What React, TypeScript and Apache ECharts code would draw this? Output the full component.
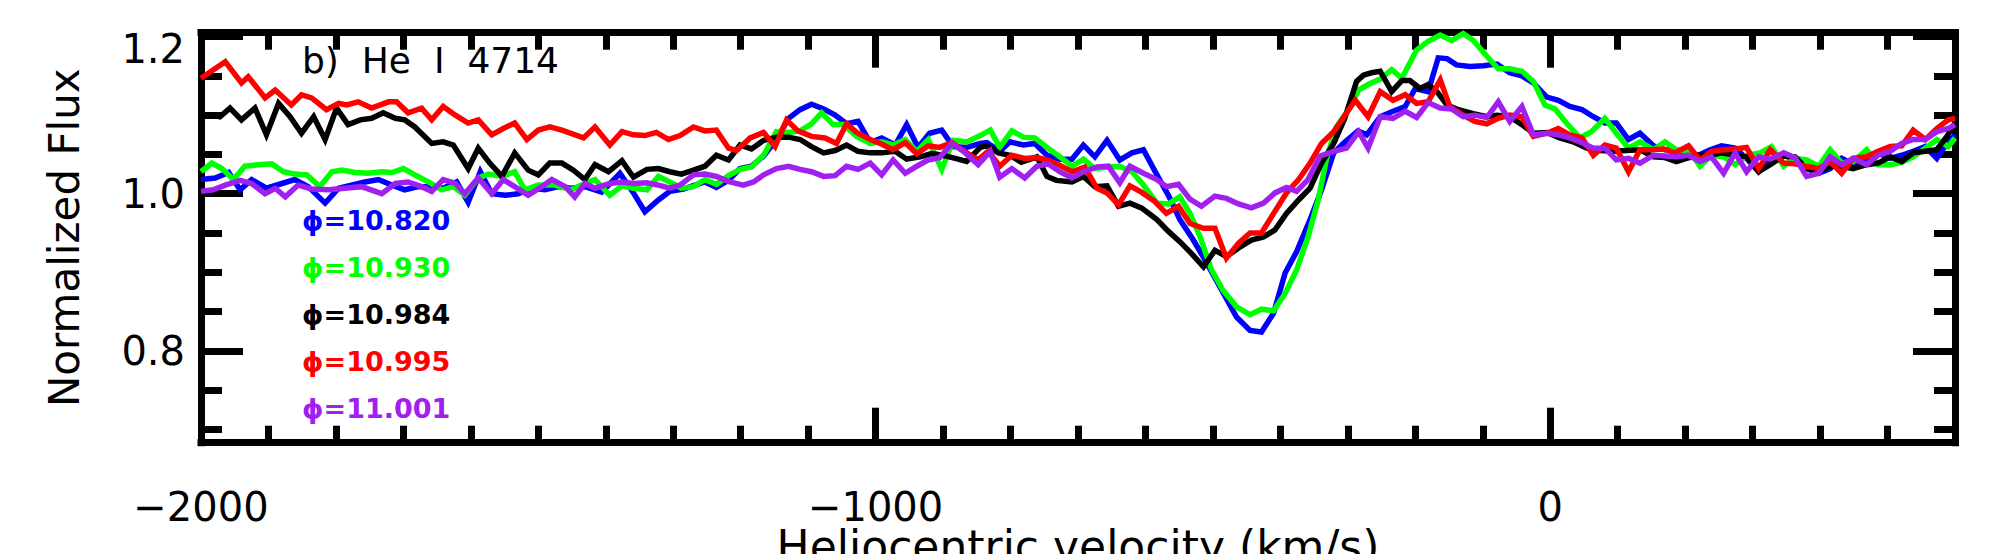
import React, { useEffect, useRef } from 'react';
import * as echarts from 'echarts';

// ---------- data (velocity km/s, normalized flux) ----------
const phaseLabels = ['\u03d5=10.820', '\u03d5=10.930', '\u03d5=10.984', '\u03d5=10.995', '\u03d5=11.001'];
const seriesColors = ['#0000ff', '#00ff00', '#000000', '#ff0000', '#a020f0'];

const blue: number[][] = [
  [-2000, 1.018], [-1979, 1.02], [-1959, 1.027], [-1942, 1.005], [-1925, 1.018], [-1903, 1.007], [-1880, 1.013], [-1861, 1.018],
  [-1841, 1.009], [-1816, 0.988], [-1796, 1.007], [-1777, 1.011], [-1757, 1.015], [-1737, 1.018], [-1717, 1.011], [-1698, 1.005],
  [-1678, 1.009], [-1658, 1.009], [-1641, 1.007], [-1621, 1.015], [-1604, 0.989], [-1586, 1.028], [-1569, 1.0], [-1549, 0.998],
  [-1530, 1.0], [-1510, 1.007], [-1490, 1.005], [-1470, 1.009], [-1451, 1.007], [-1431, 1.009], [-1416, 1.005],
  [-1406, 1.002], [-1379, 1.026], [-1359, 1.001], [-1342, 0.977], [-1322, 0.992], [-1305, 1.003], [-1285, 1.006], [-1268, 1.011],
  [-1253, 1.015], [-1236, 1.008], [-1218, 1.017], [-1201, 1.032], [-1184, 1.035], [-1166, 1.048], [-1147, 1.069], [-1129, 1.096],
  [-1112, 1.107], [-1095, 1.114], [-1077, 1.108], [-1060, 1.1], [-1043, 1.089], [-1026, 1.092], [-1008, 1.065], [-991, 1.071],
  [-971, 1.062], [-954, 1.088], [-937, 1.059], [-920, 1.077], [-902, 1.081], [-885, 1.06], [-865, 1.059], [-845, 1.064],
  [-835, 1.065], [-816, 1.054], [-801, 1.066], [-781, 1.062], [-764, 1.064], [-746, 1.049], [-727, 1.044], [-709, 1.044],
  [-692, 1.062], [-675, 1.047], [-657, 1.068], [-638, 1.043], [-620, 1.052], [-603, 1.056], [-583, 1.024], [-566, 0.998],
  [-549, 0.967], [-529, 0.941], [-512, 0.916], [-490, 0.882], [-465, 0.843], [-445, 0.826], [-428, 0.824], [-410, 0.848],
  [-393, 0.899], [-376, 0.926], [-356, 0.967], [-339, 1.005], [-321, 1.052], [-304, 1.066], [-285, 1.08],
  [-272, 1.075], [-252, 1.098], [-233, 1.105], [-215, 1.111], [-200, 1.134], [-181, 1.13], [-166, 1.173], [-153, 1.172],
  [-139, 1.164], [-119, 1.162], [-99, 1.163], [-79, 1.165], [-60, 1.154], [-42, 1.15], [-25, 1.141], [-5, 1.123],
  [12, 1.119], [29, 1.111], [47, 1.107], [64, 1.098], [81, 1.09], [98, 1.09], [116, 1.069], [133, 1.077],
  [153, 1.061], [170, 1.056], [187, 1.056], [202, 1.052], [220, 1.049], [237, 1.056], [254, 1.061], [274, 1.058],
  [291, 1.045], [309, 1.028], [326, 1.043], [346, 1.049], [363, 1.043], [380, 1.032], [398, 1.026], [415, 1.032],
  [432, 1.045], [449, 1.038], [469, 1.043], [486, 1.052], [504, 1.045], [521, 1.049], [538, 1.054], [556, 1.06],
  [573, 1.045], [588, 1.064], [600, 1.075],
];

const green: number[][] = [
  [-2000, 1.028], [-1984, 1.039], [-1969, 1.032], [-1952, 1.018], [-1935, 1.035], [-1915, 1.037], [-1895, 1.038], [-1878, 1.028],
  [-1861, 1.025], [-1843, 1.024], [-1824, 1.009], [-1806, 1.028], [-1791, 1.03], [-1772, 1.027], [-1752, 1.026], [-1732, 1.028],
  [-1717, 1.027], [-1700, 1.032], [-1683, 1.024], [-1663, 1.015], [-1643, 1.005], [-1626, 1.009], [-1609, 0.998], [-1589, 1.02],
  [-1574, 1.025], [-1554, 1.022], [-1535, 1.028], [-1520, 1.005], [-1500, 1.011], [-1475, 1.011], [-1451, 1.005], [-1431, 1.013],
  [-1416, 1.018], [-1394, 0.998], [-1376, 1.01], [-1359, 1.007], [-1339, 1.005], [-1322, 1.022], [-1305, 1.015], [-1288, 1.007],
  [-1270, 1.009], [-1253, 1.018], [-1236, 1.012], [-1218, 1.023], [-1201, 1.031], [-1184, 1.034], [-1166, 1.049], [-1147, 1.079],
  [-1129, 1.078], [-1112, 1.08], [-1095, 1.089], [-1080, 1.103], [-1063, 1.088], [-1048, 1.088], [-1028, 1.073], [-1008, 1.064],
  [-991, 1.066], [-974, 1.062], [-956, 1.069], [-939, 1.054], [-922, 1.069], [-902, 1.031], [-885, 1.068], [-865, 1.066],
  [-845, 1.074], [-830, 1.081], [-816, 1.059], [-798, 1.08], [-781, 1.072], [-764, 1.071], [-746, 1.059], [-727, 1.047],
  [-709, 1.035], [-692, 1.044], [-675, 1.032], [-657, 1.034], [-638, 1.035], [-620, 1.028], [-603, 1.011], [-583, 0.988],
  [-566, 0.987], [-549, 0.996], [-534, 0.975], [-519, 0.945], [-502, 0.903], [-485, 0.877], [-465, 0.856], [-445, 0.846],
  [-428, 0.853], [-410, 0.851], [-393, 0.873], [-376, 0.903], [-359, 0.945], [-344, 0.992], [-331, 1.047], [-317, 1.085],
  [-299, 1.107], [-284, 1.132], [-270, 1.139], [-252, 1.146], [-235, 1.158], [-220, 1.147], [-198, 1.183], [-181, 1.194],
  [-163, 1.202], [-146, 1.195], [-129, 1.204], [-114, 1.195], [-94, 1.175], [-77, 1.159], [-60, 1.159], [-42, 1.156],
  [-25, 1.143], [-8, 1.113], [7, 1.108], [24, 1.09], [44, 1.071], [61, 1.079], [81, 1.096], [98, 1.077],
  [116, 1.058], [133, 1.066], [153, 1.056], [170, 1.066], [187, 1.056], [207, 1.054], [222, 1.035], [239, 1.049],
  [257, 1.047], [274, 1.037], [291, 1.049], [311, 1.052], [328, 1.06], [346, 1.035], [363, 1.045], [380, 1.043],
  [398, 1.035], [415, 1.056], [432, 1.039], [449, 1.041], [469, 1.056], [486, 1.037], [504, 1.037], [521, 1.04],
  [538, 1.047], [556, 1.058], [573, 1.069], [590, 1.06], [600, 1.071],
];

const black: number[][] = [
  [-2000, 1.098], [-1984, 1.1], [-1972, 1.098], [-1957, 1.109], [-1940, 1.094], [-1920, 1.109], [-1903, 1.075], [-1885, 1.115],
  [-1868, 1.098], [-1851, 1.077], [-1833, 1.098], [-1816, 1.069], [-1799, 1.109], [-1782, 1.088], [-1764, 1.094], [-1747, 1.096],
  [-1730, 1.103], [-1712, 1.096], [-1698, 1.094], [-1683, 1.085], [-1658, 1.064], [-1641, 1.066], [-1626, 1.062], [-1604, 1.032],
  [-1589, 1.058], [-1572, 1.039], [-1554, 1.022], [-1535, 1.052], [-1515, 1.03], [-1500, 1.024], [-1483, 1.039], [-1465, 1.039],
  [-1448, 1.03], [-1431, 1.018], [-1416, 1.037], [-1396, 1.028], [-1376, 1.042], [-1359, 1.021], [-1339, 1.031], [-1322, 1.032],
  [-1305, 1.028], [-1288, 1.025], [-1270, 1.03], [-1253, 1.035], [-1236, 1.049], [-1218, 1.043], [-1201, 1.062], [-1184, 1.057],
  [-1166, 1.068], [-1147, 1.072], [-1129, 1.072], [-1112, 1.069], [-1095, 1.06], [-1077, 1.052], [-1060, 1.055], [-1043, 1.062],
  [-1026, 1.054], [-1008, 1.052], [-991, 1.052], [-971, 1.054], [-954, 1.044], [-934, 1.047], [-917, 1.051], [-900, 1.049],
  [-882, 1.045], [-865, 1.041], [-845, 1.059], [-835, 1.061], [-818, 1.052], [-801, 1.049], [-784, 1.04], [-761, 1.047],
  [-746, 1.022], [-732, 1.017], [-709, 1.015], [-692, 1.022], [-675, 1.009], [-657, 1.01], [-640, 0.984], [-623, 0.988],
  [-606, 0.982], [-583, 0.967], [-566, 0.952], [-549, 0.939], [-532, 0.924], [-514, 0.907], [-497, 0.928], [-480, 0.92],
  [-462, 0.931], [-443, 0.941], [-425, 0.945], [-408, 0.954], [-391, 0.975], [-373, 0.992], [-356, 1.007], [-339, 1.039],
  [-321, 1.064], [-305, 1.095], [-287, 1.143], [-277, 1.151], [-265, 1.154], [-252, 1.156], [-235, 1.13], [-220, 1.144],
  [-208, 1.144], [-193, 1.134], [-181, 1.139], [-168, 1.13], [-153, 1.113], [-136, 1.107], [-114, 1.102], [-94, 1.098],
  [-79, 1.1], [-60, 1.098], [-42, 1.088], [-25, 1.077], [-5, 1.078], [14, 1.071], [34, 1.066], [54, 1.058],
  [74, 1.055], [93, 1.054], [113, 1.055], [133, 1.056], [153, 1.047], [170, 1.046], [187, 1.041], [202, 1.045],
  [220, 1.049], [237, 1.049], [254, 1.052], [274, 1.049], [291, 1.047], [309, 1.028], [326, 1.037], [346, 1.048],
  [363, 1.047], [380, 1.032], [398, 1.028], [415, 1.035], [432, 1.035], [449, 1.032], [469, 1.037], [486, 1.039],
  [504, 1.047], [521, 1.041], [538, 1.052], [556, 1.054], [573, 1.056], [588, 1.073], [600, 1.09],
];

const red: number[][] = [
  [-2000, 1.147], [-1964, 1.168], [-1940, 1.141], [-1930, 1.149], [-1905, 1.122], [-1890, 1.132], [-1866, 1.113], [-1851, 1.126],
  [-1836, 1.122], [-1814, 1.107], [-1796, 1.115], [-1784, 1.113], [-1767, 1.117], [-1747, 1.109], [-1722, 1.117], [-1710, 1.117],
  [-1693, 1.103], [-1673, 1.109], [-1658, 1.094], [-1641, 1.111], [-1623, 1.1], [-1604, 1.09], [-1589, 1.094], [-1569, 1.075],
  [-1552, 1.083], [-1535, 1.09], [-1517, 1.069], [-1500, 1.081], [-1483, 1.085], [-1465, 1.081], [-1433, 1.071], [-1416, 1.085],
  [-1394, 1.062], [-1376, 1.079], [-1359, 1.075], [-1342, 1.074], [-1325, 1.078], [-1307, 1.069], [-1290, 1.074], [-1270, 1.085],
  [-1253, 1.08], [-1236, 1.081], [-1218, 1.058], [-1206, 1.055], [-1186, 1.071], [-1166, 1.078], [-1149, 1.06], [-1132, 1.094],
  [-1115, 1.08], [-1095, 1.073], [-1075, 1.071], [-1058, 1.064], [-1043, 1.089], [-1028, 1.078], [-1008, 1.069], [-993, 1.064],
  [-974, 1.056], [-956, 1.065], [-939, 1.051], [-922, 1.061], [-905, 1.059], [-887, 1.065], [-865, 1.052], [-848, 1.043],
  [-833, 1.054], [-816, 1.035], [-798, 1.049], [-779, 1.045], [-761, 1.046], [-746, 1.043], [-729, 1.037], [-709, 1.028],
  [-690, 1.034], [-672, 1.007], [-657, 1.001], [-640, 0.986], [-623, 1.01], [-606, 1.002], [-586, 0.99], [-569, 0.975],
  [-551, 0.984], [-534, 0.962], [-514, 0.956], [-497, 0.956], [-480, 0.918], [-462, 0.937], [-445, 0.95], [-428, 0.95],
  [-410, 0.975], [-391, 1.001], [-373, 1.018], [-356, 1.039], [-339, 1.064], [-321, 1.079], [-312, 1.09], [-289, 1.119],
  [-270, 1.098], [-252, 1.13], [-233, 1.119], [-215, 1.126], [-198, 1.115], [-181, 1.117], [-163, 1.145], [-149, 1.111],
  [-129, 1.1], [-112, 1.092], [-94, 1.089], [-77, 1.096], [-60, 1.1], [-42, 1.098], [-25, 1.073], [-5, 1.077],
  [12, 1.083], [29, 1.075], [47, 1.071], [64, 1.049], [81, 1.062], [98, 1.058], [116, 1.028], [133, 1.056],
  [148, 1.056], [168, 1.057], [185, 1.052], [205, 1.061], [222, 1.043], [239, 1.054], [257, 1.056], [274, 1.057],
  [291, 1.059], [309, 1.032], [326, 1.056], [346, 1.039], [363, 1.038], [380, 1.035], [398, 1.032], [415, 1.041],
  [432, 1.026], [449, 1.045], [469, 1.047], [486, 1.054], [504, 1.06], [521, 1.061], [538, 1.081], [556, 1.069],
  [573, 1.083], [590, 1.094], [600, 1.096],
];

const purple: number[][] = [
  [-2000, 1.003], [-1982, 1.005], [-1964, 1.011], [-1942, 1.017], [-1925, 1.013], [-1905, 1.0], [-1890, 1.007], [-1875, 0.996],
  [-1856, 1.011], [-1836, 1.006], [-1811, 1.005], [-1787, 1.007], [-1762, 1.009], [-1732, 1.0], [-1712, 1.013], [-1693, 1.015],
  [-1673, 1.009], [-1658, 1.003], [-1641, 1.018], [-1623, 1.013], [-1609, 1.0], [-1589, 1.02], [-1569, 1.0], [-1552, 1.018],
  [-1535, 1.009], [-1515, 0.998], [-1495, 1.009], [-1480, 1.018], [-1460, 1.009], [-1446, 0.996], [-1431, 1.013], [-1416, 1.007],
  [-1394, 1.013], [-1376, 1.015], [-1359, 1.013], [-1339, 1.014], [-1322, 1.011], [-1305, 1.007], [-1290, 1.011], [-1270, 1.024],
  [-1253, 1.025], [-1236, 1.022], [-1216, 1.015], [-1196, 1.011], [-1181, 1.015], [-1166, 1.024], [-1147, 1.032], [-1129, 1.035],
  [-1112, 1.031], [-1095, 1.028], [-1077, 1.022], [-1060, 1.023], [-1043, 1.035], [-1026, 1.031], [-1008, 1.039], [-991, 1.024],
  [-974, 1.043], [-956, 1.026], [-939, 1.035], [-922, 1.043], [-905, 1.046], [-887, 1.064], [-870, 1.054], [-848, 1.037],
  [-830, 1.054], [-816, 1.021], [-798, 1.032], [-779, 1.02], [-761, 1.035], [-744, 1.038], [-727, 1.028], [-709, 1.02],
  [-692, 1.028], [-672, 1.034], [-655, 1.035], [-638, 1.014], [-623, 1.035], [-603, 1.026], [-583, 1.018], [-569, 1.009],
  [-551, 1.012], [-534, 0.993], [-517, 0.984], [-497, 0.997], [-480, 0.994], [-462, 0.987], [-443, 0.982], [-425, 0.988],
  [-408, 1.001], [-391, 1.008], [-376, 1.003], [-359, 1.018], [-341, 1.048], [-321, 1.054], [-302, 1.058], [-284, 1.079],
  [-270, 1.058], [-252, 1.098], [-233, 1.096], [-215, 1.105], [-198, 1.097], [-181, 1.116], [-163, 1.109], [-146, 1.108],
  [-129, 1.098], [-112, 1.1], [-94, 1.097], [-77, 1.117], [-60, 1.092], [-42, 1.111], [-25, 1.075], [-5, 1.077],
  [12, 1.075], [29, 1.071], [47, 1.065], [64, 1.058], [81, 1.058], [98, 1.043], [116, 1.045], [133, 1.039],
  [153, 1.049], [170, 1.048], [187, 1.047], [205, 1.049], [222, 1.041], [239, 1.047], [257, 1.026], [274, 1.052],
  [291, 1.028], [309, 1.047], [326, 1.044], [346, 1.052], [363, 1.046], [380, 1.022], [398, 1.026], [415, 1.047],
  [432, 1.037], [449, 1.045], [469, 1.037], [486, 1.049], [504, 1.054], [521, 1.064], [538, 1.069], [556, 1.069],
  [573, 1.079], [590, 1.083], [600, 1.088],
];

const allSeries = [blue, green, black, red, purple];

const xTicks = [-2000, -1000, 0];
const xTickLabels = ['\u22122000', '\u22121000', '0'];
const yTicks = [0.8, 1.0, 1.2];
const yTickLabels = ['0.8', '1.0', '1.2'];

const panelTitle = 'b)\u00a0 He\u00a0 I\u00a0 4714';
const xTitle = 'Heliocentric velocity (km/s)';
const yTitle = 'Normalized Flux';

const X_MIN = -2000;
const X_MAX = 600;
const Y_MIN = 0.683;
const Y_MAX = 1.205;

const FONT = 'DejaVu Sans';

export default function App() {
  const ref = useRef<HTMLDivElement>(null);

  useEffect(() => {
    if (!ref.current) return;
    const chart = echarts.init(ref.current, undefined, { renderer: 'svg' });

    const findTick = (arr: number[], v: number) => arr.findIndex((t) => Math.abs(t - v) < 1e-6);

    const axisLineStyle = { color: '#000', width: 7, cap: 'square' as const };
    const tickLine = { color: '#000', width: 7 };

    const xAxisBase = {
      type: 'value' as const,
      min: X_MIN,
      max: X_MAX,
      splitNumber: 3,
      axisLine: { show: true, onZero: false, lineStyle: axisLineStyle },
      axisTick: { show: true, inside: true, length: 35, lineStyle: tickLine },
      minorTick: { show: true, splitNumber: 10, length: 17, lineStyle: tickLine },
      splitLine: { show: false },
      minorSplitLine: { show: false },
    };
    const yAxisBase = {
      type: 'value' as const,
      min: Y_MIN,
      max: Y_MAX,
      splitNumber: 3,
      axisLine: { show: true, onZero: false, lineStyle: axisLineStyle },
      axisTick: { show: true, inside: true, length: 42, lineStyle: tickLine },
      minorTick: { show: true, splitNumber: 4, length: 21, lineStyle: tickLine },
      splitLine: { show: false },
      minorSplitLine: { show: false },
    };

    const legendTop = 220.7;
    const legendStep = 46.9;

    chart.setOption({
      animation: false,
      backgroundColor: '#fff',
      grid: {
        left: 201,
        top: 32.7,
        width: 1754,
        height: 410,
        containLabel: false,
        outerBoundsMode: 'none',
      },
      xAxis: [
        {
          ...xAxisBase,
          position: 'bottom',
          name: xTitle,
          nameLocation: 'middle',
          nameGap: 82,
          nameMoveOverlap: false,
          nameTextStyle: { fontFamily: FONT, fontSize: 44, color: '#000' },
          axisLabel: {
            show: true,
            margin: 44,
            fontFamily: FONT,
            fontSize: 40,
            color: '#000',
            showMaxLabel: false,
            formatter: (v: number) => {
              const i = findTick(xTicks, v);
              return i < 0 ? '' : xTickLabels[i];
            },
          },
        },
        { ...xAxisBase, position: 'top', axisLabel: { show: false } },
      ],
      yAxis: [
        {
          ...yAxisBase,
          position: 'left',
          name: yTitle,
          nameLocation: 'middle',
          nameRotate: 90,
          nameGap: 116,
          nameTextStyle: { fontFamily: FONT, fontSize: 42, color: '#000' },
          axisLabel: {
            show: true,
            margin: 16,
            fontFamily: FONT,
            fontSize: 40,
            color: '#000',
            formatter: (v: number) => {
              const i = findTick(yTicks, v);
              if (i < 0) return '';
              return i === yTicks.length - 1 ? `{hi|${yTickLabels[i]}}` : yTickLabels[i];
            },
            rich: {
              hi: { fontFamily: FONT, fontSize: 40, color: '#000', padding: [25, 0, 0, 0] },
            },
          },
        },
        { ...yAxisBase, position: 'right', axisLabel: { show: false } },
      ],
      series: allSeries.map((d, i) => ({
        type: 'line',
        name: phaseLabels[i],
        data: d,
        xAxisIndex: 0,
        yAxisIndex: 0,
        showSymbol: false,
        symbol: 'none',
        lineStyle: { color: seriesColors[i], width: 5.5, join: 'miter' },
        itemStyle: { color: seriesColors[i] },
        z: 2 + i,
        clip: true,
      })),
      graphic: [
        {
          type: 'text',
          x: 302,
          y: 60.5,
          z: 100,
          style: {
            text: panelTitle,
            fontFamily: FONT,
            fontSize: 36,
            fill: '#000',
            align: 'left',
            verticalAlign: 'middle',
          },
        },
        ...phaseLabels.map((label, i) => ({
          type: 'text',
          x: 302,
          y: legendTop + i * legendStep,
          z: 100,
          style: {
            text: label,
            fontFamily: FONT,
            fontSize: 27,
            fontWeight: 'bold',
            fill: seriesColors[i],
            align: 'left',
            verticalAlign: 'middle',
          },
        })),
      ],
    });

    return () => {
      chart.dispose();
    };
  }, []);

  return (
    <div
      ref={ref}
      style={{ position: 'absolute', left: 0, top: 0, width: 2000, height: 554, background: '#fff' }}
    />
  );
}
